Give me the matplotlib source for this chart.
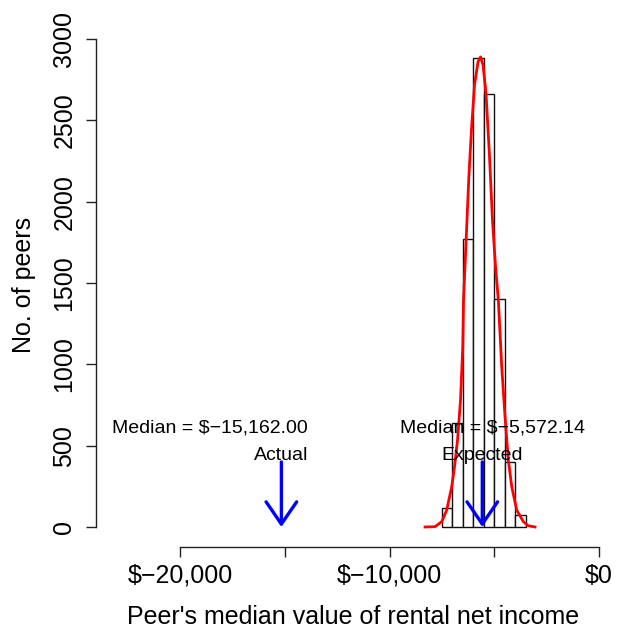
import matplotlib
matplotlib.use("Agg")
import matplotlib.pyplot as plt

plt.rcParams['font.family'] = ['Liberation Sans', 'DejaVu Sans']

# histogram of peer medians (bin edges and counts)
bin_edges = [-7500, -7000, -6500, -6000, -5500, -5000, -4500, -4000, -3500]
counts = [117, 640, 1770, 2884, 2661, 1401, 401, 72]

# density curve scaled to counts
curve_x = [-8305, -7828, -7508, -7270, -7031, -6897, -6754, -6611, -6506,
           -6468, -6348, -6214, -6085, -5942, -5775, -5656, -5536, -5393,
           -5236, -5083, -4940, -4806, -4644, -4487, -4329, -4167, -3928,
           -3613, -3389, -3055]
curve_y = [0, 2, 33, 104, 248, 371, 535, 781, 1100,
           1395, 1750, 2150, 2450, 2720, 2860, 2890, 2840, 2661,
           2299, 1880, 1600, 1395, 985, 678, 412, 248, 104,
           33, 8, 0]

actual_median = -15162.00
expected_median = -5572.14
arrow_top = 400

x_ticks = [-20000, -15000, -10000, -5000, 0]
x_tick_labels = ["$\u221220,000", "", "$\u221210,000", "", "$0"]
y_ticks = [0, 500, 1000, 1500, 2000, 2500, 3000]

fig = plt.figure(figsize=(6.17, 6.28), dpi=100)
ax = fig.add_axes([0.1556, 0.1401, 0.8331, 0.8121])

widths = [b - a for a, b in zip(bin_edges[:-1], bin_edges[1:])]
ax.bar(bin_edges[:-1], counts, width=widths, align='edge',
       facecolor='white', edgecolor='#111111', linewidth=1.0, zorder=2)
ax.plot(curve_x, curve_y, color='red', linewidth=2.0, zorder=3)

for xm in (actual_median, expected_median):
    ax.annotate('', xy=(xm, 0), xytext=(xm, arrow_top),
                arrowprops=dict(arrowstyle='->, head_length=1.6, head_width=1.1',
                                color='blue', lw=2.4, shrinkA=0, shrinkB=0),
                zorder=4)

ax.text(-18567, 610, f"Median = ${actual_median:,.2f}".replace('-', '\u2212'),
        ha='center', va='center', fontsize=14, zorder=5)
ax.text(actual_median, 440, "Actual", ha='center', va='center', fontsize=14, zorder=5)
ax.text(-5107, 610, f"Median = ${expected_median:,.2f}".replace('-', '\u2212'),
        ha='center', va='center', fontsize=14, zorder=5)
ax.text(expected_median, 440, "Expected", ha='center', va='center', fontsize=14, zorder=5)

ax.set_xlim(-24010, 525)
ax.set_ylim(-80, 3055)

for side in ('top', 'right'):
    ax.spines[side].set_visible(False)
ax.spines['left'].set_bounds(0, 3000)
ax.spines['bottom'].set_bounds(-20000, 0)
ax.spines['bottom'].set_position(('outward', 5))
for side in ('left', 'bottom'):
    ax.spines[side].set_linewidth(1.0)
    ax.spines[side].set_color('#222222')

ax.set_xticks(x_ticks)
ax.set_xticklabels(x_tick_labels)
ax.set_yticks(y_ticks)
ax.set_yticklabels([str(v) for v in y_ticks], rotation=90, va='center')
ax.tick_params(direction='out', length=7.2, width=1.0, color='#222222',
               labelsize=18, pad=5)
ax.tick_params(axis='y', pad=7)

ax.set_xlabel("Peer's median value of rental net income", fontsize=18, labelpad=12)
ax.set_ylabel("No. of peers", fontsize=18, labelpad=12)

fig.savefig("out.png", dpi=100)
